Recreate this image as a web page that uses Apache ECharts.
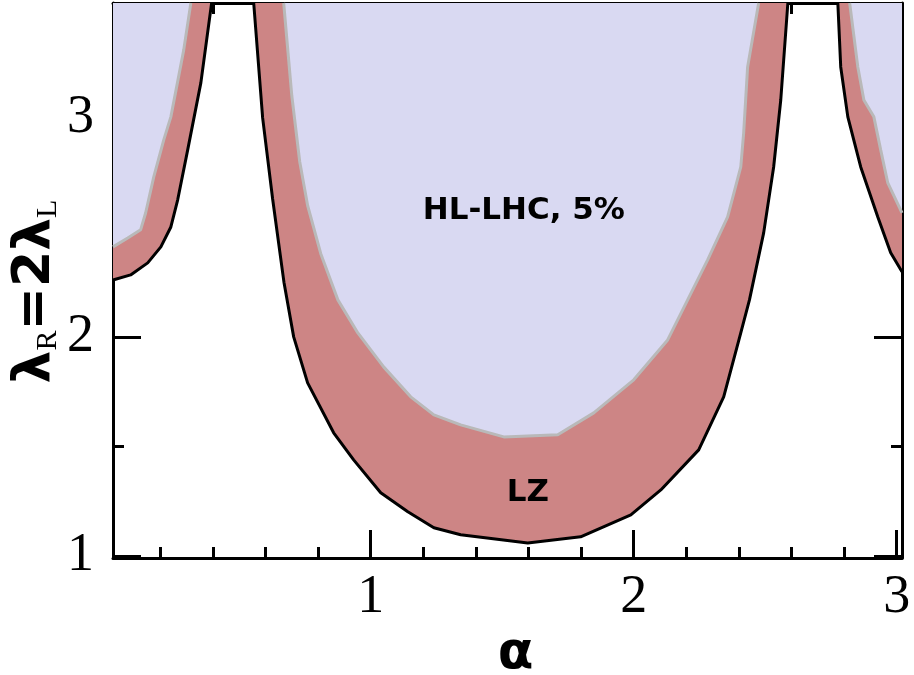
<!DOCTYPE html>
<html>
<head>
<meta charset="utf-8">
<script src="https://cdn.jsdelivr.net/npm/echarts@6/dist/echarts.min.js"></script>
<style>
  html, body { margin: 0; padding: 0; background: #ffffff; }
  #chart { width: 914px; height: 675px; }
</style>
</head>
<body>
<div id="chart"></div>
<script>
// Axis ranges and tick positions
const xRange = [0.02, 3.02];
const yRange = [0.99, 3.525];
const xMajorTicks = [1, 2, 3];
const xMinorTicks = [0.2, 0.4, 0.6, 0.8, 1.2, 1.4, 1.6, 1.8, 2.2, 2.4, 2.6, 2.8];
const yMajorTicks = [1, 2, 3];
const yMinorTicks = [1.5, 2.5];

// LZ exclusion boundary (black curve), three branches in alpha
const lzLeft = [[0.02, 2.26], [0.087, 2.283], [0.152, 2.338], [0.202, 2.411], [0.24, 2.502],
  [0.266, 2.626], [0.304, 2.854], [0.354, 3.16], [0.395, 3.525]];
const lzMiddle = [[0.555, 3.525], [0.589, 3.0], [0.627, 2.63], [0.67, 2.25], [0.707, 2.0],
  [0.76, 1.79], [0.859, 1.562], [0.935, 1.438], [1.038, 1.288], [1.141, 1.201], [1.24, 1.128],
  [1.342, 1.096], [1.597, 1.059], [1.798, 1.087], [1.989, 1.187], [2.103, 1.301], [2.247, 1.484],
  [2.342, 1.726], [2.407, 2.018], [2.44, 2.169], [2.494, 2.475], [2.532, 2.776], [2.559, 3.082],
  [2.586, 3.525]];
const lzRight = [[2.776, 3.525], [2.787, 3.233], [2.814, 3.005], [2.863, 2.776], [2.928, 2.548],
  [2.977, 2.384], [3.02, 2.297]];

// HL-LHC 5% boundary (grey curve), three branches in alpha
const hlLeft = [[0.02, 2.411], [0.076, 2.452], [0.125, 2.489], [0.144, 2.566], [0.175, 2.731],
  [0.213, 2.9], [0.24, 3.005], [0.289, 3.311], [0.316, 3.525]];
const hlMiddle = [[0.669, 3.525], [0.70, 3.1], [0.73, 2.8], [0.76, 2.6], [0.81, 2.38],
  [0.875, 2.169], [0.951, 2.018], [1.049, 1.863], [1.152, 1.726], [1.24, 1.644], [1.342, 1.598],
  [1.506, 1.543], [1.711, 1.553], [1.848, 1.653], [2.0, 1.804], [2.129, 1.986], [2.205, 2.169],
  [2.281, 2.352], [2.357, 2.548], [2.407, 2.776], [2.418, 2.932], [2.433, 3.233], [2.475, 3.525]];
const hlRight = [[2.821, 3.525], [2.852, 3.233], [2.875, 3.082], [2.913, 3.005], [2.939, 2.854],
  [2.966, 2.703], [3.02, 2.566]];

// Region labels
const regionLabels = [
  { name: 'HL-LHC, 5%', value: [1.582, 2.575] },
  { name: 'LZ', value: [1.597, 1.288] }
];

const lzFill = '#cd8585';
const hlFill = '#d9d9f2';
const frameColor = '#000000';
const tickFont = { fontFamily: 'Liberation Serif', fontSize: 54, color: '#000' };

function xAxisDef(position, ticks, len, withLine, withLabels) {
  return {
    type: 'value', position: position, min: xRange[0], max: xRange[1],
    splitLine: { show: false },
    axisLine: { show: withLine, onZero: false, lineStyle: { color: frameColor, width: 3 } },
    axisTick: { show: true, inside: true, length: len, customValues: ticks,
      lineStyle: { color: frameColor, width: 3 } },
    axisLabel: withLabels
      ? Object.assign({ show: true, customValues: xMajorTicks, margin: 13 }, tickFont)
      : { show: false }
  };
}
function yAxisDef(position, ticks, len, withLine, withLabels) {
  return {
    type: 'value', position: position, min: yRange[0], max: yRange[1],
    splitLine: { show: false },
    axisLine: { show: withLine, onZero: false, lineStyle: { color: frameColor, width: 3 } },
    axisTick: { show: true, inside: true, length: len, customValues: ticks,
      lineStyle: { color: frameColor, width: 3 } },
    axisLabel: withLabels
      ? Object.assign({ show: true, customValues: yMajorTicks, margin: 19 }, tickFont)
      : { show: false }
  };
}

const xAxes = [
  xAxisDef('bottom', xMajorTicks, 28, true, true),
  xAxisDef('bottom', xMinorTicks, 11, false, false),
  xAxisDef('top', xMajorTicks, 28, true, false),
  xAxisDef('top', xMinorTicks, 11, false, false)
];
xAxes[0].name = 'α';
xAxes[0].nameLocation = 'middle';
xAxes[0].nameGap = 70;
xAxes[0].nameMoveOverlap = false;
xAxes[0].nameTextStyle = { fontFamily: 'DejaVu Sans', fontWeight: 'bold', fontSize: 52, color: '#000', padding: [0, 0, 0, 16] };

const yAxes = [
  yAxisDef('left', yMajorTicks, 28, true, true),
  yAxisDef('left', yMinorTicks, 11, false, false),
  yAxisDef('right', yMajorTicks, 28, true, false),
  yAxisDef('right', yMinorTicks, 11, false, false)
];
yAxes[0].name = '{b|λ}{s|R}{b|=2λ}{s|L}';
yAxes[0].nameLocation = 'middle';
yAxes[0].nameGap = 52;
yAxes[0].nameMoveOverlap = false;
yAxes[0].nameTextStyle = {
  padding: [0, 22, 0, 0],
  rich: {
    b: { fontFamily: 'DejaVu Sans', fontWeight: 'bold', fontSize: 52, color: '#000', lineHeight: 60, verticalAlign: 'bottom' },
    s: { fontFamily: 'Liberation Serif', fontSize: 30, color: '#000', lineHeight: 60, verticalAlign: 'bottom', padding: [0, 0, -2, 0] }
  }
};

function boundary(name, data, lineColor, fill) {
  return {
    name: name, type: 'line', data: data, xAxisIndex: 0, yAxisIndex: 0,
    showSymbol: false, symbol: 'none', smooth: false, clip: true,
    lineStyle: { color: lineColor, width: 3 },
    areaStyle: { color: fill, opacity: 1, origin: 'end' },
    z: 2
  };
}

const series = [
  boundary('LZ', lzLeft, '#000000', lzFill),
  boundary('LZ', lzMiddle, '#000000', lzFill),
  boundary('LZ', lzRight, '#000000', lzFill),
  boundary('HL-LHC', hlLeft, '#b9b9b9', hlFill),
  boundary('HL-LHC', hlMiddle, '#b9b9b9', hlFill),
  boundary('HL-LHC', hlRight, '#b9b9b9', hlFill),
  {
    type: 'scatter', data: regionLabels, symbolSize: 0, xAxisIndex: 0, yAxisIndex: 0, z: 5,
    itemStyle: { opacity: 1 },
    label: {
      show: true, position: 'inside', formatter: '{b}', opacity: 1,
      fontFamily: 'DejaVu Sans', fontWeight: 'bold', fontSize: 31, color: '#000',
      textBorderWidth: 0
    }
  }
];

const chart = echarts.init(document.getElementById('chart'), null, { renderer: 'canvas' });
chart.setOption({
  animation: false,
  backgroundColor: '#ffffff',
  grid: { left: 113, right: 12, top: 3, bottom: 117, containLabel: false, outerBoundsMode: 'none' },
  xAxis: xAxes,
  yAxis: yAxes,
  series: series
});
</script>
</body>
</html>
